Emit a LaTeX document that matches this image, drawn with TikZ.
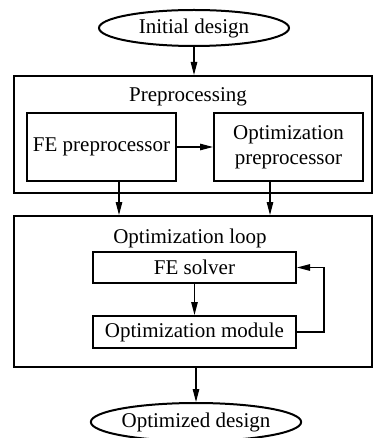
\documentclass[tikz,border=0pt]{standalone}
\usepackage{fontspec}
\setmainfont{Liberation Serif}
\usetikzlibrary{shapes.geometric, arrows.meta, positioning, calc}

\tikzset{
    groupbox/.style={draw, line width=2pt, minimum width=358, minimum height=#1, inner sep=0pt},
    taskbox/.style={draw, line width=2pt, inner sep=0pt, align=center},
    terminal/.style={draw, ellipse, line width=2pt, minimum width=190, minimum height=36, inner sep=0pt},
    flow/.style={line width=1.2pt, -{Triangle[length=13pt, width=6.5pt]}}
}

\begin{document}
\begin{tikzpicture}[x=1pt, y=-1pt, every node/.style={font=\fontsize{21}{25}\selectfont}]
    \useasboundingbox (0,0) rectangle (376,438);

    % --- Start ---
    \node[terminal] (init) at (194, 28) {Initial design};

    % --- Preprocessing ---
    \node[groupbox=117] (prep) at (193, 134.5) {};
    \node (preptitle) at (188, 97) {Preprocessing};
    \node[taskbox, minimum width=149, minimum height=68] (fepre) at (101.5, 147) {FE preprocessor};
    \node[taskbox, minimum width=149, minimum height=68] (optpre) at (288.5, 147) {Optimization\\preprocessor};

    % --- Optimization loop ---
    \node[groupbox=151] (loop) at (193, 291.5) {};
    \node (looptitle) at (190, 238) {Optimization loop};
    \node[taskbox, minimum width=203, minimum height=31] (solver) at (194.5, 267.5) {FE solver};
    \node[taskbox, minimum width=203, minimum height=32] (optmod) at (194.5, 332) {Optimization module};

    % --- End ---
    \node[terminal, minimum width=192, minimum height=38] (final) at (196, 422) {Optimized design};

    % Connectors
    \draw[flow] (init.south) -- (init.south |- prep.north);
    \draw[flow] (fepre.east) -- (optpre.west);
    \draw[flow] ([xshift=17.5]fepre.south) -- ([xshift=17.5]fepre.south |- loop.north);
    \draw[flow] ([xshift=-18.5]optpre.south) -- ([xshift=-18.5]optpre.south |- loop.north);
    \draw[flow] (solver.south) -- (optmod.north);
    \draw[flow] (optmod.east) -- ++(27,0) |- (solver.east);
    \draw[flow] (final.north |- loop.south) -- (final.north);
\end{tikzpicture}
\end{document}
